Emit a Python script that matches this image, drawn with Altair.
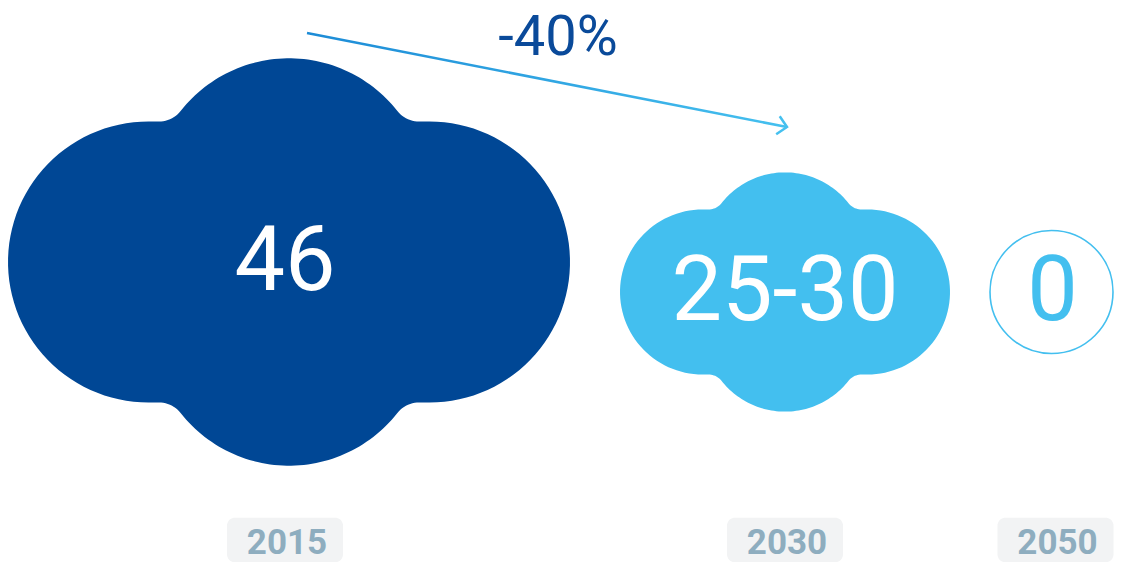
import altair as alt
import numpy as np
import pandas as pd

# ---- data ----
years = [2015, 2030, 2050]
value_labels = ["46", "25-30", "0"]
low_values = [46, 25, 0]
high_values = [46, 30, 0]
change_label = "-40%"
change_from = 2015
change_to = 2030

DARK = "#004795"
LIGHT = "#43BFEF"
LABEL_TXT = "#8EADBF"
LABEL_BG = "#F2F3F4"


# ---- glyph shapes (unit square -1..1) ----
def arc(cx, cy, r, a0, a1, n=40):
    t = np.radians(np.linspace(a0, a1, n))
    return np.c_[cx + r * np.cos(t), cy + r * np.sin(t)]


def cloud_path():
    bc, rb = 0.235, 0.49      # bump circles
    f = 0.10                  # fillet radius
    fy = 0.5 + f
    fx = np.sqrt((rb + f) ** 2 - (fy - bc) ** 2)
    a = np.degrees(np.arctan2(fy - bc, fx))
    pieces = [
        arc(0, -bc, rb, -180 + a, -a, 60),
        arc(fx, -fy, f, 180 - a, 90, 12),
        arc(0.5, 0, 0.5, -90, 90, 60),
        arc(fx, fy, f, -90, -180 + a, 12),
        arc(0, bc, rb, a, 180 - a, 60),
        arc(-fx, fy, f, -a, -90, 12),
        arc(-0.5, 0, 0.5, 90, 270, 60),
        arc(-fx, -fy, f, 90, a, 12),
    ]
    pts = np.vstack(pieces)
    return "M" + "L".join(f"{x:.4f},{y:.4f}" for x, y in pts) + "Z"


def rounded_rect_path(hh=0.385, rc=0.138):
    pieces = [
        arc(1 - rc, -hh + rc, rc, -90, 0, 10),
        arc(1 - rc, hh - rc, rc, 0, 90, 10),
        arc(-1 + rc, hh - rc, rc, 90, 180, 10),
        arc(-1 + rc, -hh + rc, rc, 180, 270, 10),
    ]
    pts = np.vstack(pieces)
    return "M" + "L".join(f"{x:.4f},{y:.4f}" for x, y in pts) + "Z"


df = pd.DataFrame({
    "year": years,
    "label": value_labels,
    "low": low_values,
    "high": high_values,
})
df["mid"] = (df["low"] + df["high"]) / 2
df["year_txt"] = df["year"].astype(str)

x_scale = alt.Scale(domain=years, range=[277, 777, 1047.5], nice=False, zero=False)
y_scale = alt.Scale(domain=years, range=[254, 284, 284], nice=False, zero=False)
size_scale = alt.Scale(domain=[27.5, 46], range=[330 ** 2, 562 ** 2])

X = alt.X("year:Q", scale=x_scale, axis=None)
Y = alt.Y("year:Q", scale=y_scale, axis=None)

base = alt.Chart(df)

cloud_big = base.transform_filter("datum.year == 2015").mark_point(
    shape=cloud_path(), filled=True, opacity=1, strokeWidth=0, xOffset=4, fill=DARK
).encode(x=X, y=Y, size=alt.Size("mid:Q", scale=size_scale, legend=None))

cloud_small = base.transform_filter("datum.year == 2030").mark_point(
    shape=cloud_path(), filled=True, opacity=1, strokeWidth=0, fill=LIGHT
).encode(x=X, y=Y, size=alt.Size("mid:Q", scale=size_scale, legend=None))

ring = base.transform_filter("datum.mid == 0").mark_point(
    shape="circle", filled=False, stroke=LIGHT, strokeWidth=1.6, opacity=1,
    size=123 ** 2, xOffset=-4
).encode(x=X, y=Y)

values = base.transform_filter("datum.mid > 0").mark_text(
    font="Roboto", fontSize=90, baseline="alphabetic", align="center", dy=28, color="#FFFFFF"
).encode(x=X, y=Y, text="label:N")

zero_value = base.transform_filter("datum.mid == 0").mark_text(
    font="Roboto", fontSize=90, baseline="alphabetic", align="center", dy=28, dx=-3, color=LIGHT
).encode(x=X, y=Y, text="label:N")

boxes = base.mark_point(
    shape=rounded_rect_path(), filled=True, fill=LABEL_BG, opacity=1, strokeWidth=0, size=116 ** 2
).encode(x=X, y=alt.value(532))

year_text = base.mark_text(
    font="Roboto", fontSize=35, fontWeight="bold", color=LABEL_TXT,
    baseline="alphabetic", align="center", dx=2
).encode(x=X, y=alt.value(546), text="year_txt:N")

arrow_df = pd.DataFrame({"start": [change_from], "end": [change_to], "label": [change_label]})
arrow_base = alt.Chart(arrow_df)

arrow_line = arrow_base.mark_rule(
    strokeWidth=2.5, xOffset=22, x2Offset=2,
    stroke=alt.LinearGradient(
        gradient="linear",
        stops=[alt.GradientStop(offset=0, color="#1C8BD6"), alt.GradientStop(offset=1, color="#45C0EF")],
    ),
).encode(
    x=alt.X("start:Q", scale=x_scale, axis=None),
    x2="end:Q",
    y=alt.value(25), y2=alt.value(119),
)

arrow_head = arrow_base.mark_point(
    shape="M-1,-1L0,0L-1,1", filled=False, stroke="#45C0EF", strokeWidth=2.5,
    opacity=1, size=340, angle=11, xOffset=2
).encode(x=alt.X("end:Q", scale=x_scale, axis=None), y=alt.value(119))

arrow_text = arrow_base.mark_text(
    font="Roboto", fontSize=56, color="#0A4A9A", baseline="alphabetic", align="center"
).encode(x=alt.value(550), y=alt.value(47), text="label:N")

chart = alt.layer(
    cloud_big, cloud_small, ring, values, zero_value, boxes, year_text,
    arrow_line, arrow_head, arrow_text
).properties(
    width=1106, height=554, autosize=alt.AutoSizeParams(type="none"), padding=0, background="white"
).configure_view(stroke=None)

chart.save("out.html", embed_options={"renderer": "svg", "actions": False})
